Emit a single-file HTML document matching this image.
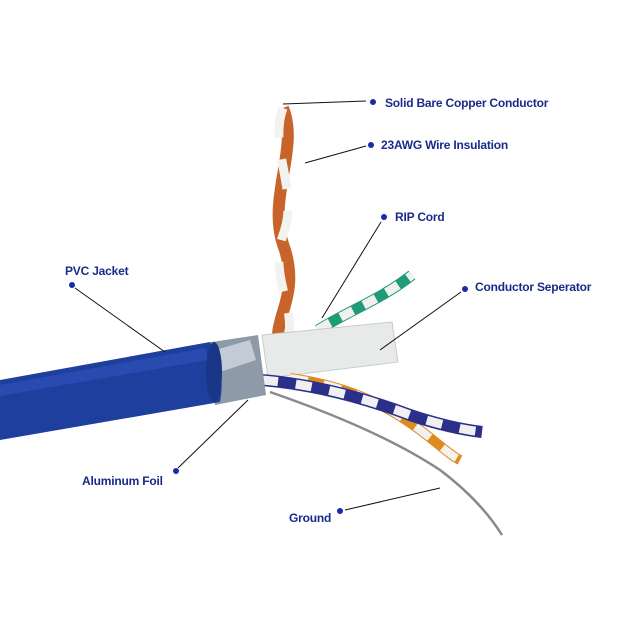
<!DOCTYPE html>
<html><head><meta charset="utf-8"><style>
html,body{margin:0;padding:0;background:#fff;}
svg{display:block}
text{font-family:"Liberation Sans",sans-serif;font-weight:bold;font-size:12px;letter-spacing:-0.2px;fill:#1a2a8a}
</style></head><body>
<svg width="640" height="640" viewBox="0 0 640 640">
<path d="M270 392 Q380 430 440 470 Q480 500 502 535" stroke="#8a8a8a" stroke-width="2.5" fill="none"/>
<path d="M283 108 C300 150 265 200 285 250 C300 300 270 320 280 350" stroke="#c8642a" stroke-width="12" fill="none"/>
<path d="M283 108 C268 150 300 190 283 235 C268 280 300 310 286 345" stroke="#f2f2ee" stroke-width="9" fill="none" stroke-dasharray="30 22"/>
<path d="M318 330 C350 310 380 300 412 275" stroke="#1f9a7a" stroke-width="11" fill="none"/>
<path d="M318 330 C350 310 380 300 412 275" stroke="#f0f0ee" stroke-width="9" fill="none" stroke-dasharray="14 12"/>
<polygon points="262,335 392,322 398,362 268,378" fill="#e8eaea" stroke="#c8cccc"/>
<path d="M290 378 C340 385 380 400 420 430 C440 445 450 455 460 460" stroke="#e08a20" stroke-width="10" fill="none"/>
<path d="M290 378 C340 385 380 400 420 430 C440 445 450 455 460 460" stroke="#f2f2ee" stroke-width="8" fill="none" stroke-dasharray="18 16"/>
<path d="M262 380 C320 385 370 400 410 415 C440 425 465 430 482 432" stroke="#2a2f8a" stroke-width="12" fill="none"/>
<path d="M262 380 C320 385 370 400 410 415 C440 425 465 430 482 432" stroke="#f0f0f0" stroke-width="9" fill="none" stroke-dasharray="16 18"/>
<polygon points="205,343 258,335 266,395 215,405" fill="#8e9aa8"/>
<polygon points="215,350 250,340 256,360 220,372" fill="#c3ccd6"/>
<path d="M0 380 L210 342 Q226 372 220 402 L0 440 Z" fill="#1f3f9e"/>
<path d="M0 385 L205 348 L208 360 L0 396 Z" fill="#3358c0" opacity="0.5"/>
<ellipse cx="214" cy="372" rx="8" ry="30" fill="#1a3686"/>
<g stroke="#111" stroke-width="1" fill="none">
<line x1="283" y1="104" x2="366" y2="101"/>
<line x1="305" y1="163" x2="366" y2="146"/>
<line x1="322" y1="318" x2="381" y2="222"/>
<line x1="380" y1="350" x2="461" y2="292"/>
<line x1="75" y1="288" x2="165" y2="352"/>
<line x1="178" y1="468" x2="248" y2="400"/>
<line x1="345" y1="510" x2="440" y2="488"/>
</g>
<g fill="#1a2aa8">
<circle cx="373" cy="102" r="3"/><circle cx="371" cy="145" r="3"/>
<circle cx="384" cy="217" r="3"/><circle cx="465" cy="289" r="3"/>
<circle cx="72" cy="285" r="3"/><circle cx="176" cy="471" r="3"/>
<circle cx="340" cy="511" r="3"/>
</g>
<text x="385" y="107">Solid Bare Copper Conductor</text>
<text x="381" y="149">23AWG Wire Insulation</text>
<text x="395" y="221">RIP Cord</text>
<text x="475" y="291">Conductor Seperator</text>
<text x="65" y="275">PVC Jacket</text>
<text x="82" y="485">Aluminum Foil</text>
<text x="289" y="522">Ground</text>
</svg>
</body></html>
